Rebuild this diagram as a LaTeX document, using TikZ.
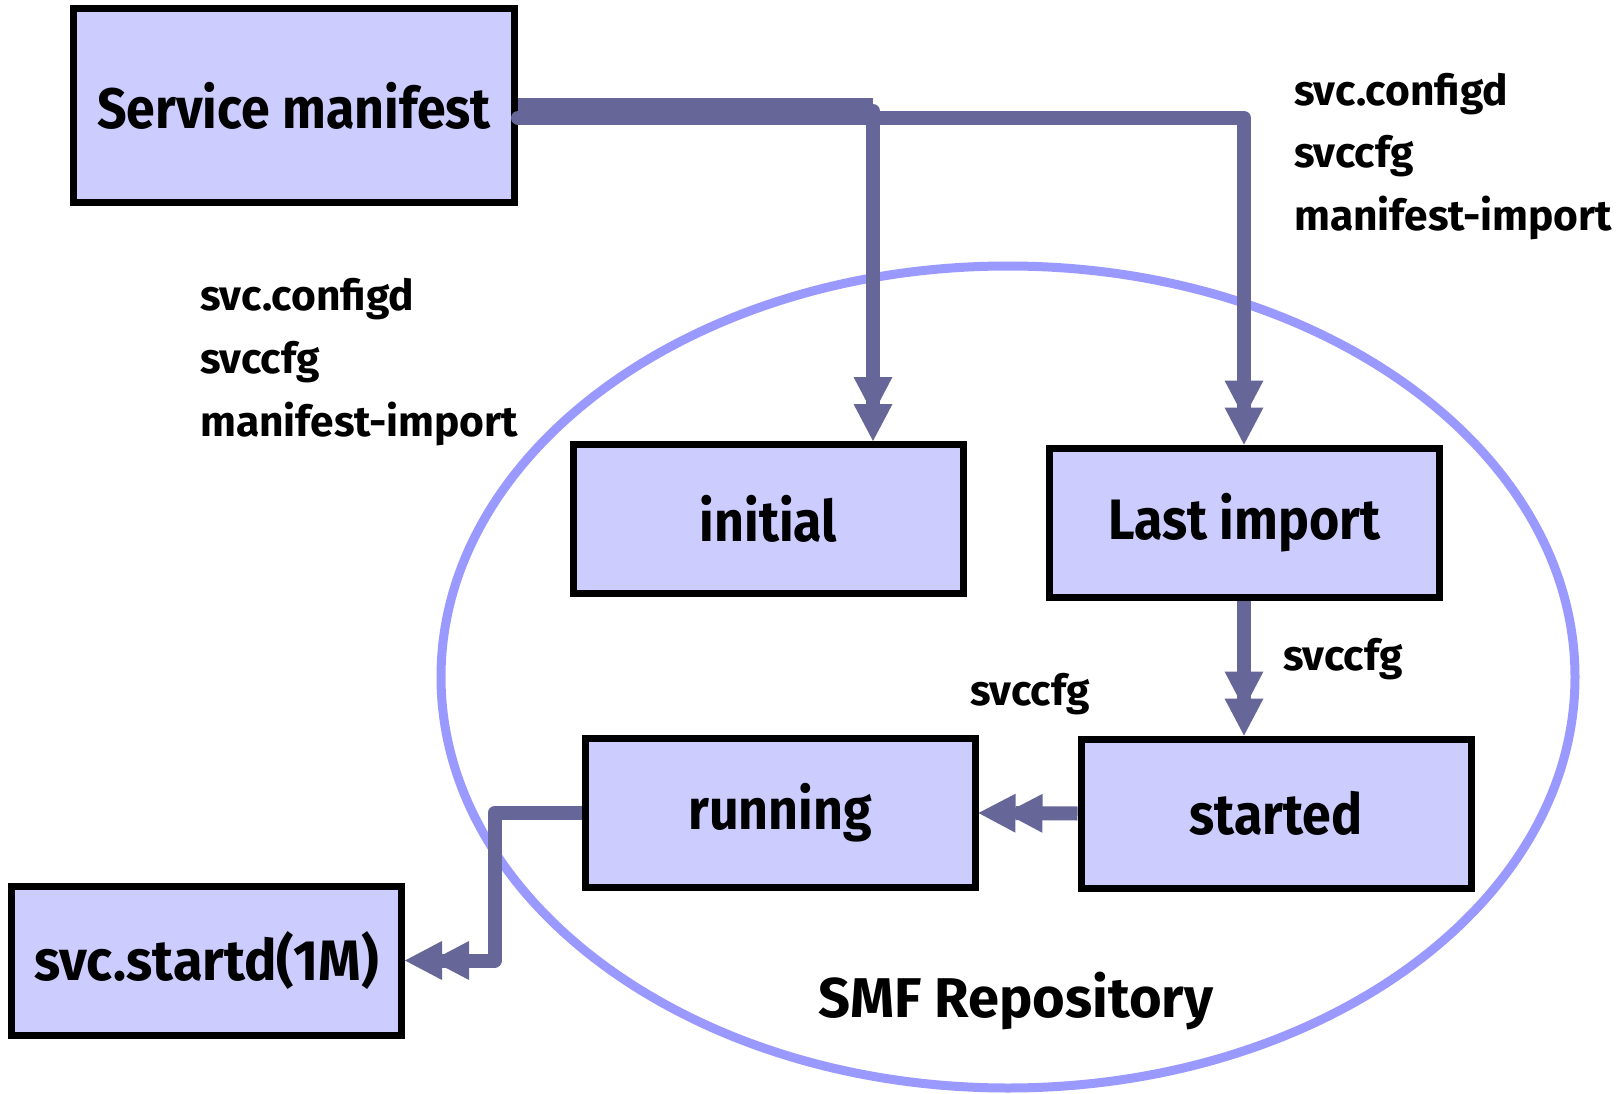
\documentclass[tikz,border=0pt]{standalone}
\usepackage{fontspec}
\setmainfont{Fira Sans}
\newfontfamily\boxfam{Fira Sans}[FakeStretch=0.91]
\newfontfamily\widefam{Fira Sans}[FakeStretch=0.95]
\usetikzlibrary{arrows.meta}
\definecolor{boxfill}{RGB}{204,204,255}
\definecolor{flow}{RGB}{102,102,153}
\definecolor{repo}{RGB}{153,153,255}
\newcommand\boxfont{\boxfam\fontsize{57}{60}\selectfont\bfseries}
\newcommand\wideboxfont{\widefam\fontsize{57}{60}\selectfont\bfseries}
\newcommand\repofont{\fontsize{56}{60}\selectfont\bfseries}
\newcommand\cmdfont{\fontsize{42.5}{48}\selectfont\bfseries}
\begin{document}
\begin{tikzpicture}[x=1pt,y=-1pt,
  statebox/.style={draw=black, line width=7pt, fill=boxfill,
    minimum width=390pt, minimum height=149pt, inner sep=0pt, font=\boxfont},
  flowline/.style={draw=flow, line width=14pt, line join=round},
  dbltip/.style={-{Triangle[length=37pt,width=39pt,sep=-10pt,line width=0pt]Triangle[length=37pt,width=39pt,line width=0pt]}},
  cmd/.style={anchor=base west, font=\cmdfont, inner sep=0pt}
]
\useasboundingbox (0,0) rectangle (1618,1094);

% repository outline
\draw[repo, line width=9pt] (1008,677) ellipse [x radius=567, y radius=411];

% states
\node[statebox, minimum width=441pt, minimum height=194pt] (manifest) at (294,105.5) {Service manifest};
\node[statebox] (initial) at (768.5,519) {initial};
\node[statebox] (lastimport) at (1244.5,522.5) {Last import};
\node[statebox] (running) at (780,813) {running};
\node[statebox] (started) at (1276,813.5) {started};
\node[statebox, font=\wideboxfont] (startd) at (206.5,960.5) {svc.startd(1M)};

% bend points
\coordinate (c1) at (873,111);
\coordinate (c2) at (1244,118);
\coordinate (c3) at (494.5,813);

% import flows
\draw[flowline, line cap=round, dbltip] (manifest.east |- c2) -- (c2) -- (lastimport.north -| c2);
\draw[flowline, dbltip] (manifest.east |- c1) -- (c1) -- (initial.north -| c1);
\draw[draw=flow, line width=26pt] (manifest.east |- c1) -- (c1);

% state transitions
\draw[flowline, dbltip] (lastimport.south -| c2) -- (started.north -| c2);
\draw[flowline, dbltip] (started.west) -- (running.east);
\draw[flowline, dbltip] (running.west) -- (c3) |- (startd.east);

% labels
\node[cmd] (rA) at (1294,106) {svc.configd};
\node[cmd] (rB) at (1294,168) {svccfg};
\node[cmd] (rC) at (1294,231) {manifest-import};
\node[cmd] (lA) at (200,311) {svc.configd};
\node[cmd] (lB) at (200,373) {svccfg};
\node[cmd] (lC) at (200,436) {manifest-import};
\node[cmd] (s1) at (1283,670) {svccfg};
\node[cmd] (s2) at (970,705) {svccfg};
\node[anchor=base, font=\repofont, inner sep=0pt] (repolabel) at (1016,1017) {SMF Repository};
\end{tikzpicture}
\end{document}
